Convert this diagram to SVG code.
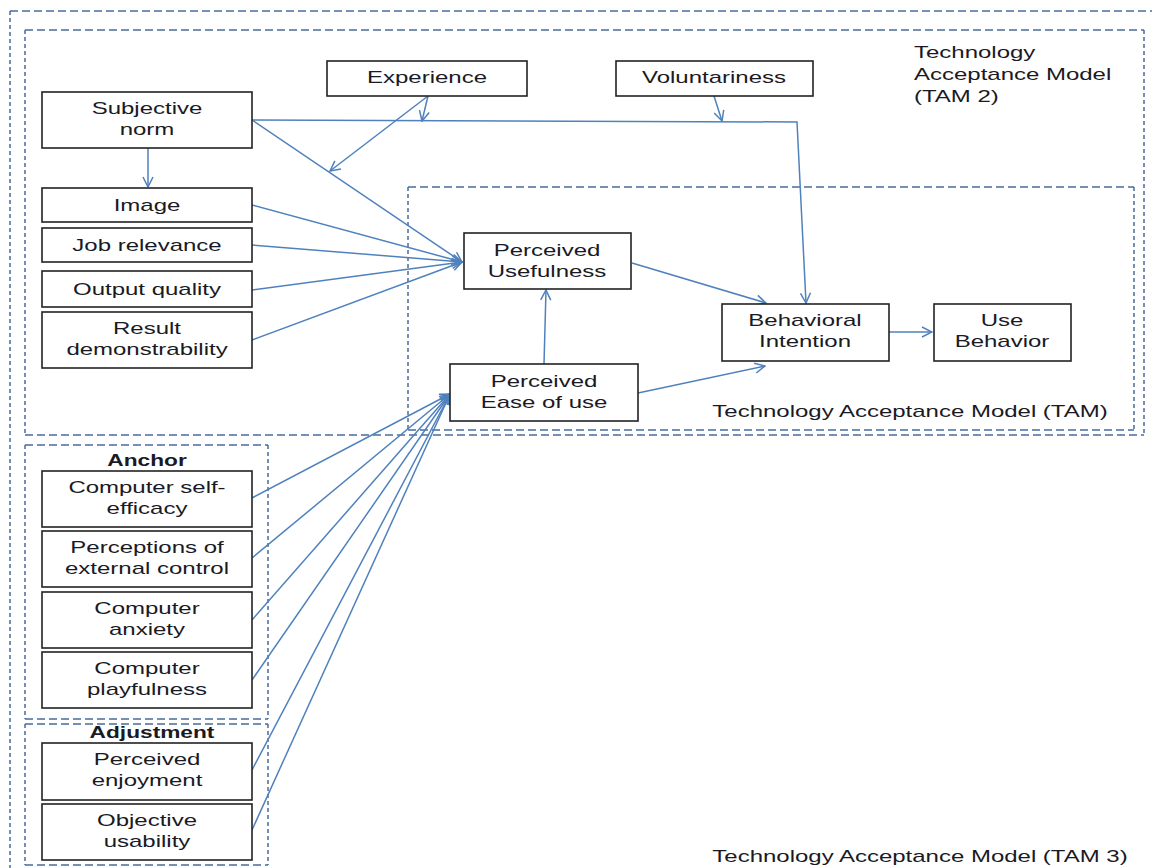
<svg xmlns="http://www.w3.org/2000/svg" width="1152" height="868" viewBox="0 0 1152 868">
<style>
.bg{fill:#ffffff}
.node rect{fill:#ffffff;stroke:#222222;stroke-width:1.6}
text{font-family:"Liberation Sans",Arial,sans-serif;font-size:16px;fill:#1a1a24}
.c{text-anchor:middle}
.s{text-anchor:start}
.b{font-weight:bold}
.dh{fill:none;stroke:#4a6c9c;stroke-width:1.5;stroke-dasharray:8 4}
.dv{fill:none;stroke:#4a6c9c;stroke-width:1.5;stroke-dasharray:4 3}
.conn line,.conn polyline{fill:none;stroke:#4f81bd;stroke-width:1.5}
</style>
<defs>
<marker id="arr" viewBox="0 0 12 12" refX="11" refY="6" markerWidth="12" markerHeight="12" markerUnits="userSpaceOnUse" orient="auto">
<path d="M1,1 L11,6 L1,11" fill="none" stroke="#4f81bd" stroke-width="1.5"/>
</marker>
</defs>
<rect class="bg" x="0" y="0" width="1152" height="868"/>

<g id="containers">
<path class="dh" d="M10,11 H1152"/>
<path class="dv" d="M10,11 V868"/>
<path class="dh" d="M25,30 H1144 M25,435 H1144"/>
<path class="dv" d="M25,30 V435 M1144,30 V435"/>
<path class="dh" d="M408,187 H1134 M408,430 H1134"/>
<path class="dv" d="M408,187 V430 M1134,187 V430"/>
<path class="dh" d="M25,445 H268 M25,719 H268"/>
<path class="dv" d="M25,445 V719 M268,445 V719"/>
<path class="dh" d="M25,724 H268 M25,865 H268"/>
<path class="dv" d="M25,724 V865 M268,724 V865"/>
<text class="s" transform="translate(914 58) scale(1.5 1)">Technology</text>
<text class="s" transform="translate(914 80) scale(1.5 1)">Acceptance Model</text>
<text class="s" transform="translate(914 102) scale(1.5 1)">(TAM 2)</text>
<text class="c" transform="translate(910 417) scale(1.5 1)">Technology Acceptance Model (TAM)</text>
<text class="c" transform="translate(920 862) scale(1.5 1)">Technology Acceptance Model (TAM 3)</text>
<text class="c b" transform="translate(147 466) scale(1.42 1)">Anchor</text>
<text class="c b" transform="translate(152 738) scale(1.42 1)">Adjustment</text>
</g>

<g class="conn" id="connectors">
<line x1="148" y1="148" x2="148" y2="187" marker-end="url(#arr)"/>
<line x1="252" y1="120" x2="462" y2="262" marker-end="url(#arr)"/>
<polyline points="252,120 797,122 806,303" marker-end="url(#arr)"/>
<line x1="428" y1="96" x2="422" y2="121" marker-end="url(#arr)"/>
<line x1="428" y1="96" x2="330" y2="171" marker-end="url(#arr)"/>
<line x1="714" y1="96" x2="722" y2="121" marker-end="url(#arr)"/>
<line x1="252" y1="205" x2="462" y2="262" marker-end="url(#arr)"/>
<line x1="252" y1="245" x2="462" y2="262" marker-end="url(#arr)"/>
<line x1="252" y1="290" x2="462" y2="262" marker-end="url(#arr)"/>
<line x1="252" y1="340" x2="462" y2="262" marker-end="url(#arr)"/>
<line x1="632" y1="263" x2="766" y2="303" marker-end="url(#arr)"/>
<line x1="544" y1="364" x2="546" y2="290" marker-end="url(#arr)"/>
<line x1="638" y1="393" x2="765" y2="366" marker-end="url(#arr)"/>
<line x1="889" y1="332" x2="932" y2="332" marker-end="url(#arr)"/>
<line x1="252" y1="498" x2="450" y2="394" marker-end="url(#arr)"/>
<line x1="252" y1="558" x2="450" y2="394" marker-end="url(#arr)"/>
<line x1="252" y1="620" x2="450" y2="394" marker-end="url(#arr)"/>
<line x1="252" y1="680" x2="450" y2="394" marker-end="url(#arr)"/>
<line x1="252" y1="770" x2="450" y2="394" marker-end="url(#arr)"/>
<line x1="252" y1="830" x2="450" y2="394" marker-end="url(#arr)"/>
</g>

<g class="node" id="subjective-norm">
<rect x="42" y="92" width="210" height="56"/>
<text class="c" transform="translate(147 114) scale(1.5 1)">Subjective</text>
<text class="c" transform="translate(147 135) scale(1.5 1)">norm</text>
</g>
<g class="node" id="image">
<rect x="42" y="188" width="210" height="34"/>
<text class="c" transform="translate(147 211) scale(1.5 1)">Image</text>
</g>
<g class="node" id="job-relevance">
<rect x="42" y="228" width="210" height="34"/>
<text class="c" transform="translate(147 251) scale(1.5 1)">Job relevance</text>
</g>
<g class="node" id="output-quality">
<rect x="42" y="271" width="210" height="36"/>
<text class="c" transform="translate(147 295) scale(1.5 1)">Output quality</text>
</g>
<g class="node" id="result-demonstrability">
<rect x="42" y="312" width="210" height="56"/>
<text class="c" transform="translate(147 334) scale(1.5 1)">Result</text>
<text class="c" transform="translate(147 355) scale(1.5 1)">demonstrability</text>
</g>
<g class="node" id="experience">
<rect x="327" y="61" width="200" height="35"/>
<text class="c" transform="translate(427 83) scale(1.5 1)">Experience</text>
</g>
<g class="node" id="voluntariness">
<rect x="616" y="61" width="197" height="35"/>
<text class="c" transform="translate(714 83) scale(1.5 1)">Voluntariness</text>
</g>
<g class="node" id="perceived-usefulness">
<rect x="464" y="233" width="167" height="56"/>
<text class="c" transform="translate(547 256) scale(1.5 1)">Perceived</text>
<text class="c" transform="translate(547 277) scale(1.5 1)">Usefulness</text>
</g>
<g class="node" id="perceived-ease-of-use">
<rect x="450" y="364" width="188" height="57"/>
<text class="c" transform="translate(544 387) scale(1.5 1)">Perceived</text>
<text class="c" transform="translate(544 408) scale(1.5 1)">Ease of use</text>
</g>
<g class="node" id="behavioral-intention">
<rect x="722" y="304" width="167" height="57"/>
<text class="c" transform="translate(805 326) scale(1.5 1)">Behavioral</text>
<text class="c" transform="translate(805 347) scale(1.5 1)">Intention</text>
</g>
<g class="node" id="use-behavior">
<rect x="934" y="304" width="137" height="57"/>
<text class="c" transform="translate(1002 326) scale(1.5 1)">Use</text>
<text class="c" transform="translate(1002 347) scale(1.5 1)">Behavior</text>
</g>
<g class="node" id="computer-self-efficacy">
<rect x="42" y="471" width="210" height="56"/>
<text class="c" transform="translate(147 493) scale(1.5 1)">Computer self-</text>
<text class="c" transform="translate(147 514) scale(1.5 1)">efficacy</text>
</g>
<g class="node" id="perceptions-of-external-control">
<rect x="42" y="531" width="210" height="56"/>
<text class="c" transform="translate(147 553) scale(1.5 1)">Perceptions of</text>
<text class="c" transform="translate(147 574) scale(1.5 1)">external control</text>
</g>
<g class="node" id="computer-anxiety">
<rect x="42" y="592" width="210" height="56"/>
<text class="c" transform="translate(147 614) scale(1.5 1)">Computer</text>
<text class="c" transform="translate(147 635) scale(1.5 1)">anxiety</text>
</g>
<g class="node" id="computer-playfulness">
<rect x="42" y="652" width="210" height="56"/>
<text class="c" transform="translate(147 674) scale(1.5 1)">Computer</text>
<text class="c" transform="translate(147 695) scale(1.5 1)">playfulness</text>
</g>
<g class="node" id="perceived-enjoyment">
<rect x="42" y="743" width="210" height="57"/>
<text class="c" transform="translate(147 765) scale(1.5 1)">Perceived</text>
<text class="c" transform="translate(147 786) scale(1.5 1)">enjoyment</text>
</g>
<g class="node" id="objective-usability">
<rect x="42" y="804" width="210" height="56"/>
<text class="c" transform="translate(147 826) scale(1.5 1)">Objective</text>
<text class="c" transform="translate(147 847) scale(1.5 1)">usability</text>
</g>
</svg>
